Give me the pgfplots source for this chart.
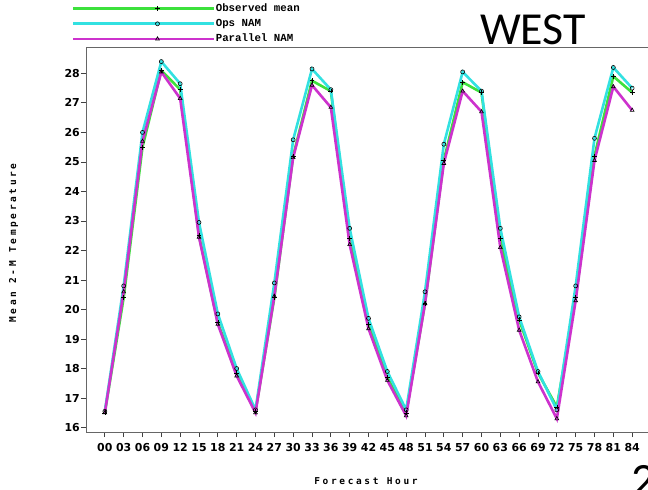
\documentclass[border=0pt]{standalone}
\usepackage{pgfplots}
\usepackage{pgfplotstable}
\pgfplotsset{compat=1.18}
\usepackage{fontspec}
\setmainfont{Liberation Sans}
\newfontfamily\legfnt{Liberation Mono}
\newfontfamily\tickfamily{DejaVu Sans}
\newfontfamily\labfamily[LetterSpace=28]{DejaVu Sans Mono}
\newfontfamily\westfnt{Carlito}
\definecolor{obsc}{RGB}{60,225,60}
\definecolor{opsc}{RGB}{50,225,225}
\definecolor{parc}{RGB}{205,50,205}
\pgfplotstableread{
h obs ops par
0 16.50 16.55 16.50
3 20.40 20.80 20.60
6 25.50 26.00 25.70
9 28.10 28.40 28.05
12 27.45 27.65 27.15
15 22.50 22.95 22.45
18 19.55 19.85 19.50
21 17.85 18.00 17.75
24 16.55 16.60 16.50
27 20.40 20.90 20.45
30 25.20 25.75 25.15
33 27.75 28.15 27.60
36 27.40 27.45 26.85
39 22.40 22.75 22.20
42 19.50 19.70 19.35
45 17.70 17.90 17.60
48 16.50 16.60 16.40
51 20.20 20.60 20.20
54 25.05 25.60 24.95
57 27.70 28.05 27.40
60 27.35 27.40 26.70
63 22.40 22.75 22.10
66 19.65 19.75 19.30
69 17.85 17.90 17.55
72 16.70 16.60 16.30
75 20.40 20.80 20.30
78 25.20 25.80 25.05
81 27.90 28.20 27.55
84 27.35 27.50 26.75
}\data
\begin{document}
\begin{tikzpicture}
\useasboundingbox (0,0) rectangle (648bp,490bp);
\begin{axis}[
  at={(86bp,58bp)}, anchor=south west,
  scale only axis, width=565bp, height=384.3bp,
  xmin=-3, xmax=87, ymin=15.85, ymax=28.87,
  xtick={0,3,...,84},
  xticklabels={00,03,06,09,12,15,18,21,24,27,30,33,36,39,42,45,48,51,54,57,60,63,66,69,72,75,78,81,84},
  ytick={16,17,...,28},
  xtick pos=bottom, ytick pos=left,
  tick align=outside,
  major tick length=5bp,
  tick style={black!75, line width=0.8bp},
  axis line style={black!60, line width=0.9bp},
  /pgf/number format/assume math mode=true,
  ticklabel style={font=\tickfamily\bfseries\fontsize{11}{11}\selectfont},
  xticklabel style={inner sep=1bp, yshift=-5bp},
  yticklabel style={inner sep=1bp},
  xlabel={Forecast Hour},
  ylabel={Mean 2-M Temperature},
  label style={font=\labfamily\bfseries\fontsize{9.5}{9.5}\selectfont},
  xlabel style={at={(axis description cs:0.4956,-0.1275)}, anchor=center},
  ylabel style={at={(axis description cs:-0.128,0.4918)}, anchor=center},
  legend image code/.code={\draw[mark repeat=2,mark phase=2,#1] plot coordinates {(0bp,0bp) (84bp,0bp) (141bp,0bp)};},
  legend style={at={(axis description cs:-0.02478,1.114)}, anchor=north west,
    draw=none, fill=none, inner sep=0pt, row sep=6.2bp,
    nodes={inner sep=0pt, text height=7bp, text depth=2bp},
    font=\legfnt\bfseries\fontsize{10.8}{10.8}\selectfont},
  legend cell align=left,
]
\addplot[obsc, line width=2.6bp, mark=+, mark size=2.4bp, mark options={black, line width=0.6bp}] table[x=h,y=obs] {\data};
\addlegendentry{Observed mean}
\addplot[opsc, line width=2.6bp, mark=o, mark size=2bp, mark options={black, line width=0.6bp}] table[x=h,y=ops] {\data};
\addlegendentry{Ops NAM}
\addplot[parc, line width=2.6bp, mark=triangle, mark size=2.2bp, mark options={black, line width=0.6bp}] table[x=h,y=par] {\data};
\addlegendentry{Parallel NAM}
\end{axis}
\node[anchor=base, inner sep=0pt, font=\westfnt\fontsize{46}{46}\selectfont] at (533bp,445bp) {WEST};
\node[anchor=north west, inner sep=0pt, font=\westfnt\fontsize{48}{48}\selectfont] at (631bp,25bp) {2};
\end{tikzpicture}
\end{document}
